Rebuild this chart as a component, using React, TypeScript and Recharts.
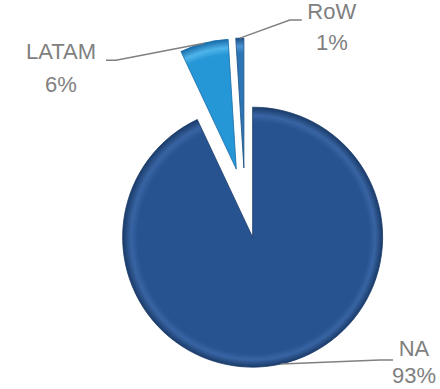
import React from 'react';
import { PieChart, Pie, Cell } from 'recharts';

// regional split of sales
const regions = ['NA', 'LATAM', 'RoW'];
const shares = [93, 6, 1];
const shareLabels = ['93%', '6%', '1%'];

const W = 440;
const H = 389;
const CENTER_X = 245;
const CENTER_Y = 203;
const RADIUS = 130;
const EXPLODE = 35;
const RADIAN = Math.PI / 180;

const fills = [
  { base: '#285391', light: '#3864a3', dark: '#1a3b69' },
  { base: '#2596d6', light: '#4fb4ea', dark: '#166aa8' },
  { base: '#2c76b6', light: '#4a92cf', dark: '#1b4f82' },
];

// leader line elbow / end and text position, relative to slice edge
const labelLayout = [
  { ex: 99, ey: -4, tx: 112, cx: 133, y1: -8, y2: 19 },
  { ex: -88, ey: 17, tx: -98, cx: -143, y1: 16, y2: 49 },
  { ex: 50, ey: -18, tx: 62, cx: 92, y1: -19, y2: 12 },
];

const data = regions.map((name, i) => ({ name, value: shares[i] }));
const total = shares.reduce((a, b) => a + b, 0);

// mid angle of each slice (recharts degrees, clockwise from 12 o'clock)
const midAngles = shares.map((v, i) => {
  const before = shares.slice(0, i).reduce((a, b) => a + b, 0);
  return 90 - (360 * (before + v / 2)) / total;
});

const centers = midAngles.map((m) => ({
  x: CENTER_X + EXPLODE * Math.cos(m * RADIAN),
  y: CENTER_Y - EXPLODE * Math.sin(m * RADIAN),
}));

const makeLabel = (idx: number) => (props: any) => {
  if (props.index !== idx) return null;
  const { cx, cy, midAngle, outerRadius } = props;
  const x0 = cx + outerRadius * Math.cos(-midAngle * RADIAN);
  const y0 = cy + outerRadius * Math.sin(-midAngle * RADIAN);
  const l = labelLayout[idx];
  return (
    <g>
      <polyline
        points={`${x0},${y0} ${x0 + l.ex},${y0 + l.ey} ${x0 + l.tx},${y0 + l.ey}`}
        fill="none"
        stroke="#808080"
        strokeWidth={1.5}
      />
      <text x={x0 + l.cx} y={y0 + l.y1} textAnchor="middle" fill="#808080"
        fontSize={22} fontFamily="Liberation Sans, Arial, sans-serif">
        {regions[idx]}
      </text>
      <text x={x0 + l.cx} y={y0 + l.y2} textAnchor="middle" fill="#808080"
        fontSize={22} fontFamily="Liberation Sans, Arial, sans-serif">
        {shareLabels[idx]}
      </text>
    </g>
  );
};

export default function App() {
  return (
    <div style={{ position: 'absolute', left: 0, top: 0, width: W, height: H, background: '#fff' }}>
      <PieChart width={W} height={H} margin={{ top: 0, right: 0, bottom: 0, left: 0 }}>
        <defs>
          {fills.map((f, i) => (
            <radialGradient
              key={i}
              id={`bevel${i}`}
              gradientUnits="userSpaceOnUse"
              cx={centers[i].x}
              cy={centers[i].y}
              r={RADIUS}
              fx={centers[i].x + 8}
              fy={centers[i].y + 8}
            >
              <stop offset="0%" stopColor={f.base} />
              <stop offset="89%" stopColor={f.base} />
              <stop offset="94%" stopColor={f.light} />
              <stop offset="100%" stopColor={f.dark} />
            </radialGradient>
          ))}
        </defs>
        {regions.map((r, i) => (
          <Pie
            key={r}
            data={data}
            dataKey="value"
            nameKey="name"
            cx={centers[i].x}
            cy={centers[i].y}
            outerRadius={RADIUS}
            startAngle={90}
            endAngle={-270}
            stroke="none"
            label={makeLabel(i)}
            labelLine={false}
            isAnimationActive={false}
          >
            {data.map((d, j) => (
              <Cell
                key={d.name}
                fill={j === i ? `url(#bevel${i})` : 'none'}
                stroke={j === i ? fills[i].dark : 'none'}
                strokeWidth={0.8}
              />
            ))}
          </Pie>
        ))}
      </PieChart>
    </div>
  );
}
